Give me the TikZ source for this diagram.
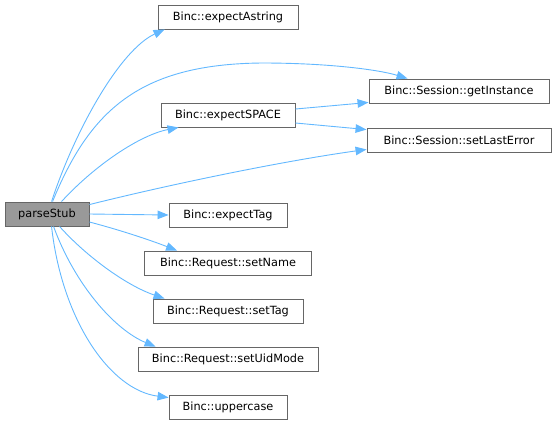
\documentclass[tikz,border=0pt]{standalone}
\usepackage{fontspec}
\setmainfont{DejaVu Sans}
\usetikzlibrary{arrows.meta}
\definecolor{edgeblue}{HTML}{63B8FF}
\definecolor{boxline}{HTML}{666666}
\tikzset{
  fn/.style={draw=boxline, fill=white, line width=0.9pt, minimum height=24pt, inner sep=0pt, font=\fontsize{11.3}{13}\selectfont, text=black},
  cur/.style={fn, fill=black!40},
  call/.style={draw=edgeblue, line width=0.9pt, -{Triangle[length=11pt,width=8.5pt]}, fill=none},
}
\begin{document}
\begin{tikzpicture}[x=1pt,y=-1pt]
\useasboundingbox (0,0) rectangle (556,424);
\node[cur, minimum width=84pt] (ps) at (47,214) {parseStub};
\node[fn, minimum width=140pt] (ea) at (228,17) {Binc::expectAstring};
\node[fn, minimum width=134pt] (es) at (228,115) {Binc::expectSPACE};
\node[fn, minimum width=180pt] (gi) at (459,91) {Binc::Session::getInstance};
\node[fn, minimum width=184pt] (sl) at (459,140) {Binc::Session::setLastError};
\node[fn, minimum width=118pt] (et) at (228,215) {Binc::expectTag};
\node[fn, minimum width=167pt] (sn) at (228,263) {Binc::Request::setName};
\node[fn, minimum width=150pt] (st) at (228,311) {Binc::Request::setTag};
\node[fn, minimum width=180pt] (su) at (228,359) {Binc::Request::setUidMode};
\node[fn, minimum width=118pt] (uc) at (228,407) {Binc::uppercase};

\coordinate (top) at (262,63);
\draw[call] ([xshift=47pt]ps.north west) .. controls (75,130) and (120,50) .. ([xshift=7pt]ea.south west);
\draw[call] ([xshift=48pt]ps.north west) .. controls (90,110) and (140,64) .. (top) .. controls (330,63) and (380,70) .. ([xshift=39pt]gi.north west);
\draw[call] ([xshift=57pt]ps.north west) .. controls (95,165) and (140,135) .. ([xshift=18pt]es.south west);
\draw[call] ([yshift=-3pt]ps.north east) .. controls (180,182) and (290,160) .. ([yshift=3pt]sl.south west);
\draw[call] ([yshift=6pt]es.east) -- ([yshift=1pt]gi.south west);
\draw[call] ([yshift=-8pt]es.east) -- ([yshift=-2pt]sl.north west);
\draw[call] (ps.east) -- (et.west);
\draw[call] ([yshift=-8pt]ps.east) .. controls (120,230) and (150,240) .. ([xshift=33pt]sn.north west);
\draw[call] ([xshift=55pt]ps.south west) .. controls (85,255) and (125,285) .. ([xshift=12pt]st.north west);
\draw[call] ([xshift=49pt]ps.south west) .. controls (75,285) and (115,330) .. ([xshift=18pt]su.north west);
\draw[call] ([xshift=47pt]ps.south west) .. controls (62,320) and (110,390) .. ([yshift=-3pt]uc.north west);
\end{tikzpicture}
\end{document}
